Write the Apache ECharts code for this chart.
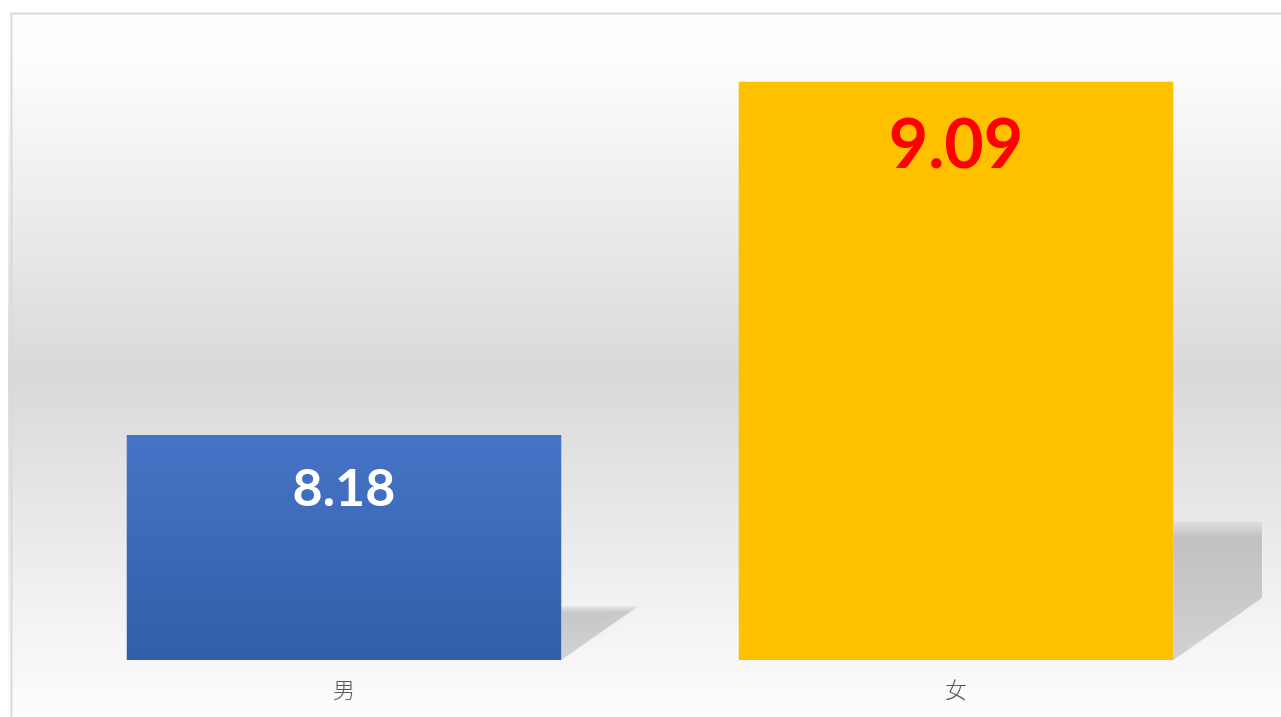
<!DOCTYPE html>
<html>
<head>
<meta charset="utf-8">
<style>
  html, body { margin: 0; padding: 0; background: #fff; }
  #chart { width: 1281px; height: 717px; }
</style>
<script src="https://cdn.jsdelivr.net/npm/echarts@6/dist/echarts.min.js"></script>
</head>
<body>
<div id="chart"></div>
<script>
const categories = ['男', '女']
const values = [8.18, 9.09]
const yMin = 7.6
const yMax = 9.2

const chart = echarts.init(document.getElementById('chart'))

const barRatio = 0.71

// perspective shadow to the right of each bar, from the bar's own coords
function renderShadow(params, api) {
  const top = api.coord([api.value(0), api.value(1)])
  const base = api.coord([api.value(0), yMin])
  const band = api.size([1, 0])[0]
  const x1 = base[0] + band * barRatio / 2
  const h = (base[1] - top[1]) * 0.24
  const s = h * 1.43
  return {
    type: 'polygon',
    shape: { points: [[x1, base[1]], [x1, base[1] - h], [x1 + s, base[1] - h]] },
    style: {
      fill: {
        type: 'linear', x: 0, y: 0, x2: 0, y2: 1,
        colorStops: [
          { offset: 0, color: 'rgba(0,0,0,0.04)' },
          { offset: 0.12, color: 'rgba(0,0,0,0.16)' },
          { offset: 1, color: 'rgba(0,0,0,0.14)' }
        ]
      },
      shadowBlur: 10,
      shadowColor: 'rgba(0,0,0,0.12)'
    }
  }
}

const option = {
  backgroundColor: {
    type: 'linear', x: 0, y: 0, x2: 0, y2: 1,
    colorStops: [
      { offset: 0, color: '#ffffff' },
      { offset: 0.1, color: '#fcfcfc' },
      { offset: 0.52, color: '#d9d9d9' },
      { offset: 0.85, color: '#f2f2f2' },
      { offset: 1, color: '#fdfdfd' }
    ]
  },
  graphic: [
    { type: 'rect', left: 0, top: 0, shape: { width: 1281, height: 10 }, style: { fill: '#fff' }, z: 0 },
    { type: 'rect', left: 0, top: 0, shape: { width: 8, height: 717 }, style: { fill: '#fff' }, z: 0 },
    { type: 'rect', left: 9, top: 11, shape: { width: 1400, height: 800 }, style: { fill: 'none', stroke: '#d9d9d9', lineWidth: 2 }, z: 0 }
  ],
  grid: { left: 38, right: 19, top: 39, bottom: 57 },
  xAxis: {
    type: 'category',
    data: categories,
    axisLine: { show: false },
    axisTick: { show: false },
    axisLabel: {
      margin: 19,
      fontSize: 22,
      color: '#595959',
      fontFamily: 'Noto Sans CJK SC',
      fontWeight: 300
    }
  },
  yAxis: {
    type: 'value',
    min: yMin,
    max: yMax,
    show: false,
    splitLine: { show: false }
  },
  series: [
    {
      type: 'custom',
      renderItem: renderShadow,
      data: values.map((v, i) => [i, v]),
      clip: true,
      z: 1,
      silent: true
    },
    {
      type: 'bar',
      barWidth: (barRatio * 100) + '%',
      z: 3,
      data: [
        {
          value: values[0],
          itemStyle: {
            color: {
              type: 'linear', x: 0, y: 0, x2: 0, y2: 1,
              colorStops: [
                { offset: 0, color: '#4674c6' },
                { offset: 1, color: '#325ea9' }
              ]
            }
          },
          label: { color: '#ffffff', fontSize: 52, distance: 28 }
        },
        {
          value: values[1],
          itemStyle: { color: '#ffc000' },
          label: { color: '#ff0000', fontSize: 68, distance: 30 }
        }
      ],
      label: {
        show: true,
        position: 'insideTop',
        fontFamily: 'Lato',
        fontWeight: 'bold',
        formatter: p => p.value.toFixed(2)
      }
    }
  ]
}

chart.setOption(option)
</script>
</body>
</html>
